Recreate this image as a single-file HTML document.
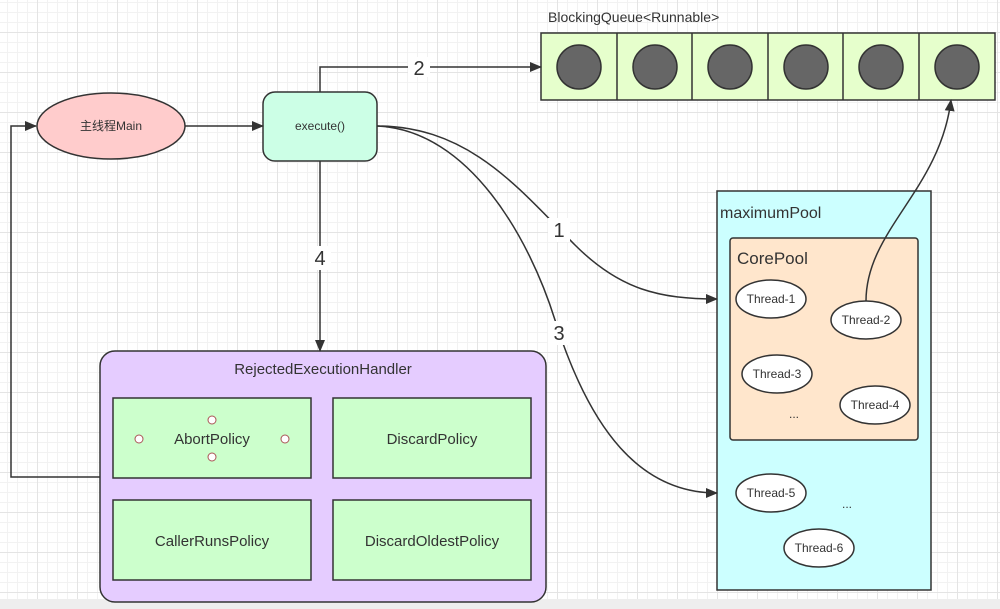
<!DOCTYPE html>
<html><head><meta charset="utf-8"><style>
html,body{margin:0;padding:0;}
body{width:1000px;height:609px;overflow:hidden;background:#fff;
background-image:linear-gradient(#e4e4e4 1px,transparent 1px),linear-gradient(90deg,#e4e4e4 1px,transparent 1px),linear-gradient(#f2f2f2 1px,transparent 1px),linear-gradient(90deg,#f2f2f2 1px,transparent 1px);
background-size:40px 40px,40px 40px,10px 10px,10px 10px;background-position:-3px -8px;}
svg{position:absolute;left:0;top:0;}
text{font-family:"Liberation Sans","Noto Sans CJK SC",sans-serif;fill:#333;}
</style></head><body>
<svg width="1000" height="609" viewBox="0 0 1000 609">
<defs><marker id="a" markerWidth="12" markerHeight="10" refX="11" refY="5" orient="auto" markerUnits="userSpaceOnUse"><path d="M0,0 L12,5 L0,10 Z" fill="#333"/></marker></defs>
<rect x="0" y="599" width="1000" height="10" fill="#eeeeee"/>
<text x="548" y="22" font-size="14">BlockingQueue&lt;Runnable&gt;</text>
<g stroke="#333" stroke-width="1.5">
<rect x="541" y="33" width="454" height="67" fill="#e6ffcc"/>
<line x1="617" y1="33" x2="617" y2="100"/><line x1="692" y1="33" x2="692" y2="100"/><line x1="768" y1="33" x2="768" y2="100"/><line x1="843" y1="33" x2="843" y2="100"/><line x1="919" y1="33" x2="919" y2="100"/>
<g fill="#666"><circle cx="579" cy="67" r="22"/><circle cx="655" cy="67" r="22"/><circle cx="730" cy="67" r="22"/><circle cx="806" cy="67" r="22"/><circle cx="881" cy="67" r="22"/><circle cx="957" cy="67" r="22"/></g>
<rect x="717" y="191" width="214" height="399" fill="#ccffff"/>
<rect x="730" y="238" width="188" height="202" rx="3" fill="#ffe6cc"/>
<ellipse cx="111" cy="126" rx="74" ry="33" fill="#ffcccc"/>
<rect x="263" y="92" width="114" height="69" rx="12" fill="#ccffe6"/>
<rect x="100" y="351" width="446" height="251" rx="15" fill="#e5ccff"/>
<rect x="113" y="398" width="198" height="80" fill="#ccffcc"/>
<rect x="333" y="398" width="198" height="80" fill="#ccffcc"/>
<rect x="113" y="500" width="198" height="80" fill="#ccffcc"/>
<rect x="333" y="500" width="198" height="80" fill="#ccffcc"/>
<g fill="#fff"><ellipse cx="771" cy="299" rx="35" ry="19"/><ellipse cx="866" cy="320" rx="35" ry="19"/><ellipse cx="777" cy="374" rx="35" ry="19"/><ellipse cx="875" cy="405" rx="35" ry="19"/><ellipse cx="771" cy="493" rx="35" ry="19"/><ellipse cx="819" cy="548" rx="35" ry="19"/></g>
</g>
<g fill="#fff" stroke="#a55" stroke-width="1"><circle cx="212" cy="420" r="4"/><circle cx="212" cy="457" r="4"/><circle cx="139" cy="439" r="4"/><circle cx="285" cy="439" r="4"/></g>
<g stroke="#333" stroke-width="1.5" fill="none">
<path d="M185,126 L263,126" marker-end="url(#a)"/>
<path d="M100,477 L11,477 L11,126 L36,126" marker-end="url(#a)"/>
<path d="M320,92 L320,67 L541,67" marker-end="url(#a)"/>
<path d="M320,161 L320,351" marker-end="url(#a)"/>
<path d="M377,126 C470,126 520,190 575,245 C620,290 660,299 717,299" marker-end="url(#a)"/>
<path d="M377,126 C470,130 530,240 555,320 C590,430 640,493 717,493" marker-end="url(#a)"/>
<path d="M866,301 C866,230 940,190 951,100" marker-end="url(#a)"/>
</g>
<g font-size="20" text-anchor="middle">
<rect x="408" y="57" width="22" height="20" fill="#fff"/><text x="419" y="75">2</text>
<rect x="309" y="246" width="22" height="24" fill="#fff"/><text x="320" y="265">4</text>
<rect x="548" y="218" width="22" height="24" fill="#fff"/><text x="559" y="237">1</text>
<rect x="548" y="321" width="22" height="24" fill="#fff"/><text x="559" y="340">3</text>
</g>
<g font-size="12" text-anchor="middle">
<text x="111" y="130">主线程Main</text>
<text x="320" y="130">execute()</text>
<text x="771" y="303">Thread-1</text><text x="866" y="324">Thread-2</text><text x="777" y="378">Thread-3</text><text x="875" y="409">Thread-4</text><text x="771" y="497">Thread-5</text><text x="819" y="552">Thread-6</text>
<text x="794" y="418">...</text><text x="847" y="508">...</text>
</g>
<g font-size="15" text-anchor="middle">
<text x="323" y="374">RejectedExecutionHandler</text>
<text x="212" y="444">AbortPolicy</text><text x="432" y="444">DiscardPolicy</text>
<text x="212" y="546">CallerRunsPolicy</text><text x="432" y="546">DiscardOldestPolicy</text>
</g>
<text x="720" y="218" font-size="16">maximumPool</text>
<text x="737" y="264" font-size="17">CorePool</text>
</svg>
</body></html>
